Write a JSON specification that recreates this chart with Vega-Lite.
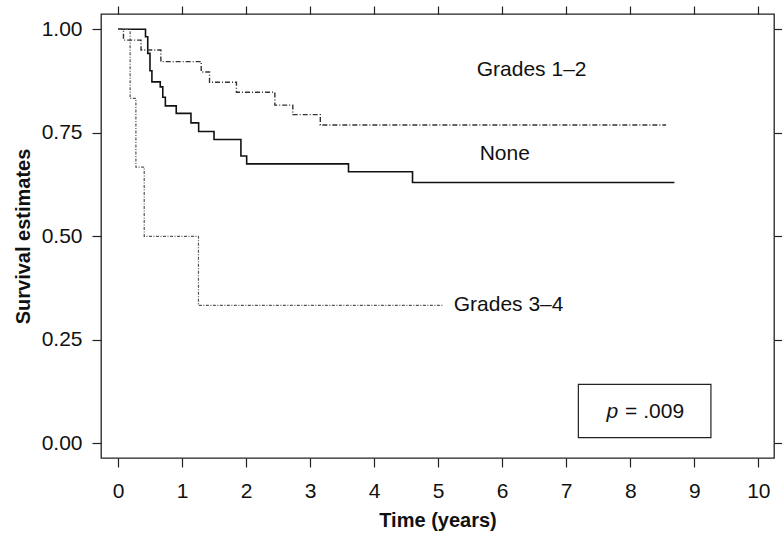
{
  "$schema": "https://vega.github.io/schema/vega-lite/v6.json",
  "width": 673,
  "height": 444,
  "autosize": {"type": "none"},
  "padding": {"left": 101, "top": 14, "right": 8, "bottom": 76},
  "background": "white",
  "config": {
    "font": "Liberation Sans",
    "view": {"stroke": "#222", "strokeWidth": 1.3},
    "axis": {
      "domain": false,
      "grid": false,
      "ticks": true,
      "tickColor": "#222",
      "tickWidth": 1.2,
      "tickSize": 9,
      "labelFont": "Liberation Sans",
      "labelFontSize": 21,
      "labelColor": "#111",
      "titleFont": "Liberation Sans",
      "titleFontSize": 20,
      "titleFontWeight": "bold",
      "titleColor": "#111"
    }
  },
  "datasets": {
    "curves": [
      {"group": "None", "t": 0, "s": 1.0},
      {"group": "None", "t": 0.43, "s": 0.982},
      {"group": "None", "t": 0.465, "s": 0.942},
      {"group": "None", "t": 0.5, "s": 0.9},
      {"group": "None", "t": 0.53, "s": 0.873},
      {"group": "None", "t": 0.66, "s": 0.861},
      {"group": "None", "t": 0.7, "s": 0.836},
      {"group": "None", "t": 0.74, "s": 0.815},
      {"group": "None", "t": 0.91, "s": 0.797},
      {"group": "None", "t": 1.14, "s": 0.774},
      {"group": "None", "t": 1.26, "s": 0.753},
      {"group": "None", "t": 1.5, "s": 0.734},
      {"group": "None", "t": 1.92, "s": 0.694},
      {"group": "None", "t": 2.01, "s": 0.675},
      {"group": "None", "t": 3.6, "s": 0.656},
      {"group": "None", "t": 4.6, "s": 0.63},
      {"group": "None", "t": 8.69, "s": 0.63},
      {"group": "Grades 1–2", "t": 0, "s": 1.0},
      {"group": "Grades 1–2", "t": 0.086, "s": 0.974},
      {"group": "Grades 1–2", "t": 0.36, "s": 0.95},
      {"group": "Grades 1–2", "t": 0.67, "s": 0.922},
      {"group": "Grades 1–2", "t": 1.3, "s": 0.897},
      {"group": "Grades 1–2", "t": 1.43, "s": 0.872},
      {"group": "Grades 1–2", "t": 1.85, "s": 0.848},
      {"group": "Grades 1–2", "t": 2.45, "s": 0.817},
      {"group": "Grades 1–2", "t": 2.73, "s": 0.794},
      {"group": "Grades 1–2", "t": 3.16, "s": 0.769},
      {"group": "Grades 1–2", "t": 8.56, "s": 0.769},
      {"group": "Grades 3–4", "t": 0, "s": 1.0},
      {"group": "Grades 3–4", "t": 0.19, "s": 0.833},
      {"group": "Grades 3–4", "t": 0.28, "s": 0.667},
      {"group": "Grades 3–4", "t": 0.41, "s": 0.5},
      {"group": "Grades 3–4", "t": 1.257, "s": 0.333},
      {"group": "Grades 3–4", "t": 5.08, "s": 0.333}
    ],
    "labels": [
      {"label": "Grades 1–2", "t": 6.46, "s": 0.902},
      {"label": "None", "t": 6.04, "s": 0.698},
      {"label": "Grades 3–4", "t": 6.1, "s": 0.335}
    ],
    "box": [
      {"t1": 7.19, "t2": 9.26, "s1": 0.0135, "s2": 0.1425}
    ],
    "ptext": [
      {"p": "p", "rest": "= .009", "t1": 7.81, "t2": 7.92, "s": 0.076}
    ]
  },
  "resolve": {"axis": {"x": "independent", "y": "independent"}},
  "layer": [
    {
      "data": {"name": "curves"},
      "mark": {"type": "line", "interpolate": "step-after"},
      "encoding": {
        "x": {
          "field": "t", "type": "quantitative",
          "scale": {"domain": [-0.265, 10.245], "nice": false, "zero": false},
          "axis": {"orient": "bottom", "title": "Time (years)", "values": [0,1,2,3,4,5,6,7,8,9,10], "labelPadding": 13, "titlePadding": 9}
        },
        "y": {
          "field": "s", "type": "quantitative",
          "scale": {"domain": [-0.0355, 1.037], "nice": false, "zero": false},
          "axis": {"orient": "left", "title": "Survival estimates", "values": [0, 0.25, 0.5, 0.75, 1], "format": ".2f", "labelPadding": 10, "titlePadding": 8}
        },
        "strokeDash": {
          "field": "group", "type": "nominal",
          "scale": {"domain": ["None", "Grades 1–2", "Grades 3–4"], "range": [[1, 0], [5, 2, 1, 2], [3, 1.5, 1, 1.5]]},
          "legend": null
        },
        "color": {
          "field": "group", "type": "nominal",
          "scale": {"domain": ["None", "Grades 1–2", "Grades 3–4"], "range": ["#111111", "#333333", "#555555"]},
          "legend": null
        },
        "strokeWidth": {
          "field": "group", "type": "nominal",
          "scale": {"domain": ["None", "Grades 1–2", "Grades 3–4"], "range": [1.6, 1.2, 1.0]},
          "legend": null
        }
      }
    },
    {
      "data": {"name": "curves"},
      "mark": {"type": "point", "opacity": 0},
      "encoding": {
        "x": {"field": "t", "type": "quantitative", "axis": {"orient": "top", "title": null, "labels": false, "tickSize": 8, "values": [0,1,2,3,4,5,6,7,8,9,10]}},
        "y": {"field": "s", "type": "quantitative", "axis": {"orient": "right", "title": null, "labels": false, "tickSize": 8, "values": [0, 0.25, 0.5, 0.75, 1]}}
      }
    },
    {
      "data": {"name": "labels"},
      "mark": {"type": "text", "fontSize": 21, "font": "Liberation Sans", "color": "#111", "align": "center", "baseline": "middle"},
      "encoding": {
        "x": {"field": "t", "type": "quantitative", "axis": null},
        "y": {"field": "s", "type": "quantitative", "axis": null},
        "text": {"field": "label"}
      }
    },
    {
      "data": {"name": "box"},
      "mark": {"type": "rect", "fill": "white", "fillOpacity": 0, "stroke": "#222", "strokeWidth": 1.2},
      "encoding": {
        "x": {"field": "t1", "type": "quantitative", "axis": null},
        "x2": {"field": "t2"},
        "y": {"field": "s1", "type": "quantitative", "axis": null},
        "y2": {"field": "s2"}
      }
    },
    {
      "data": {"name": "ptext"},
      "mark": {"type": "text", "fontSize": 21, "font": "Liberation Sans", "fontStyle": "italic", "color": "#111", "align": "right", "baseline": "middle"},
      "encoding": {
        "x": {"field": "t1", "type": "quantitative", "axis": null},
        "y": {"field": "s", "type": "quantitative", "axis": null},
        "text": {"field": "p"}
      }
    },
    {
      "data": {"name": "ptext"},
      "mark": {"type": "text", "fontSize": 21, "font": "Liberation Sans", "color": "#111", "align": "left", "baseline": "middle"},
      "encoding": {
        "x": {"field": "t2", "type": "quantitative", "axis": null},
        "y": {"field": "s", "type": "quantitative", "axis": null},
        "text": {"field": "rest"}
      }
    }
  ]
}
